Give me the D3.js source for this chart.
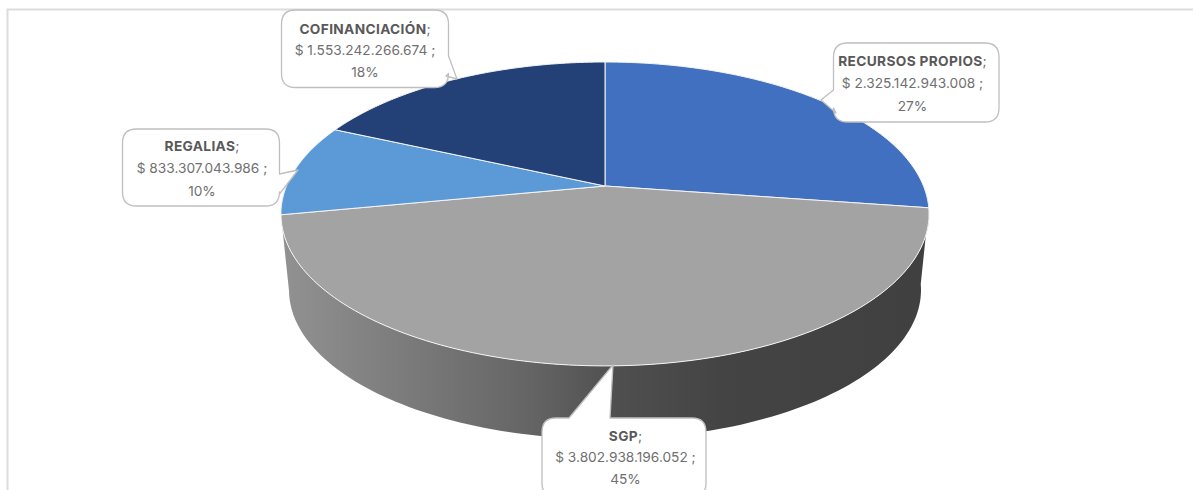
<!DOCTYPE html>
<html><head><meta charset="utf-8">
<script src="https://cdn.jsdelivr.net/npm/d3@7"></script>
<style>html,body{margin:0;padding:0;background:#fff;overflow:hidden}svg{display:block}</style>
</head><body><div id="c"></div>
<script>
const categories = ["RECURSOS PROPIOS", "SGP", "REGALIAS", "COFINANCIACIÓN"];
const values = [2325142943008, 3802938196052, 833307043986, 1553242266674];
const colors = ["#4270C1", "#A3A3A3", "#5B9AD6", "#234176"];
const callouts = [
  {box:[833.5,43,165.5,79], tip:[821,100], base:[[833.5,90],[836,113]], cx:912.5, y:[66,88,111]},
  {box:[542,418,164,79],    tip:[613,365], base:[[610,418],[569,418]],  cx:625.5, y:[441,462,484]},
  {box:[122.5,129,157,77],  tip:[298,170], base:[[279.5,174],[279.5,194]], cx:202, y:[151,173,196]},
  {box:[281.5,10,167,77.5], tip:[457,79],  base:[[446,56],[446,76]],    cx:365, y:[34,55,77]}
];
const W = 1193, H = 490;
const svg = d3.select("#c").append("svg").attr("width", W).attr("height", H);
const defs = svg.append("defs");
const grad = defs.append("linearGradient").attr("id","wall").attr("gradientUnits","userSpaceOnUse")
  .attr("x1",285).attr("x2",925).attr("y1",0).attr("y2",0);
[[0,"#919191"],[0.18,"#7c7c7c"],[0.38,"#656565"],[0.52,"#4f4f4f"],[0.68,"#444444"],[1,"#404040"]]
  .forEach(s=>grad.append("stop").attr("offset",s[0]).attr("stop-color",s[1]));

// frame
svg.append("path").attr("d",`M${W},9.5H7.5V${H}`).attr("fill","none").attr("stroke","#dcdcdc").attr("stroke-width",2);

// projective view of a disc
const k = -0.184;
const project = (cx,cy,b,a) => t => {
  const X = Math.sin(t), Y = -Math.cos(t), w = 1 + k*Y;
  return [cx + b*X/w, cy + a*Y/w];
};
const topRim = project(605,186,318.5,146.8);
const lowRim = project(605,262.6,310.6,144);
const arcPts = (f,a0,a1) => d3.range(0,121).map(i=>f(a0+(a1-a0)*i/120));
const line = d3.line();
const pie = d3.pie().sort(null).startAngle(0).endAngle(2*Math.PI)(values);

// wall (visible under the front slice)
const front = pie[1];
svg.append("path")
  .attr("d", line([...arcPts(topRim,front.startAngle,front.endAngle), ...arcPts(lowRim,front.endAngle,front.startAngle)])+"Z")
  .attr("fill","url(#wall)");

// top slices
svg.selectAll("path.slice").data(pie).join("path").attr("class","slice")
  .attr("d", d => line([[605,186], ...arcPts(topRim,d.startAngle,d.endAngle)])+"Z")
  .attr("fill",(d,i)=>colors[i]).attr("stroke","#f4f4f4").attr("stroke-width",1).attr("stroke-linejoin","round");

// callouts
const total = d3.sum(values);
const loc = d3.formatLocale({decimal:",",thousands:".",grouping:[3],currency:["$ ",""]});
const fmtV = loc.format(",d"), fmtP = d3.format(".0%");
function calloutPath(c){
  const [x,y,w,h]=c.box, r=14, [t,[b0x,b0y],[b1x,b1y]]=[c.tip,c.base[0],c.base[1]];
  const p=d3.path();
  const side = Math.abs(b0x-(x+w))<4||b0x>x+w-6 ? "right" : Math.abs(b0x-x)<4 ? "left" : "top";
  p.moveTo(x+r,y);
  if(side==="top"){ p.lineTo(b1x,y); p.lineTo(t[0],t[1]); p.lineTo(b0x,y); }
  p.lineTo(x+w-r,y); p.quadraticCurveTo(x+w,y,x+w,y+r);
  if(side==="right"){ p.lineTo(x+w,b0y); p.lineTo(t[0],t[1]); p.lineTo(b1x,b1y); }
  p.lineTo(x+w,y+h-r); p.quadraticCurveTo(x+w,y+h,x+w-r,y+h);
  p.lineTo(x+r,y+h); p.quadraticCurveTo(x,y+h,x,y+h-r);
  if(side==="left"){ p.lineTo(b1x,b1y); p.lineTo(t[0],t[1]); p.lineTo(b0x,b0y); }
  p.lineTo(x,y+r); p.quadraticCurveTo(x,y,x+r,y); p.closePath();
  return p.toString();
}
const g = svg.selectAll("g.co").data(categories).join("g").attr("class","co");
g.append("path").attr("d",(d,i)=>calloutPath(callouts[i]))
  .attr("fill","#fff").attr("stroke","#bfbfbf").attr("stroke-width",1.3).attr("stroke-linejoin","round");
const font = "Inter, 'Noto Sans', sans-serif";
g.each(function(name,i){
  const c=callouts[i], s=d3.select(this);
  const t0=s.append("text").attr("x",c.cx).attr("y",c.y[0]);
  t0.append("tspan").text(name).attr("font-weight",700).attr("fill","#595959").attr("letter-spacing",0.35);
  t0.append("tspan").text(";").attr("fill","#707070");
  s.append("text").attr("x",c.cx).attr("y",c.y[1]).text("$ "+fmtV(values[i])+" ;").attr("fill","#707070");
  s.append("text").attr("x",c.cx).attr("y",c.y[2]).text(fmtP(values[i]/total)).attr("fill","#707070");
  s.selectAll("text").attr("text-anchor","middle").attr("font-family",font).attr("font-size",13.7);
});
</script></body></html>
